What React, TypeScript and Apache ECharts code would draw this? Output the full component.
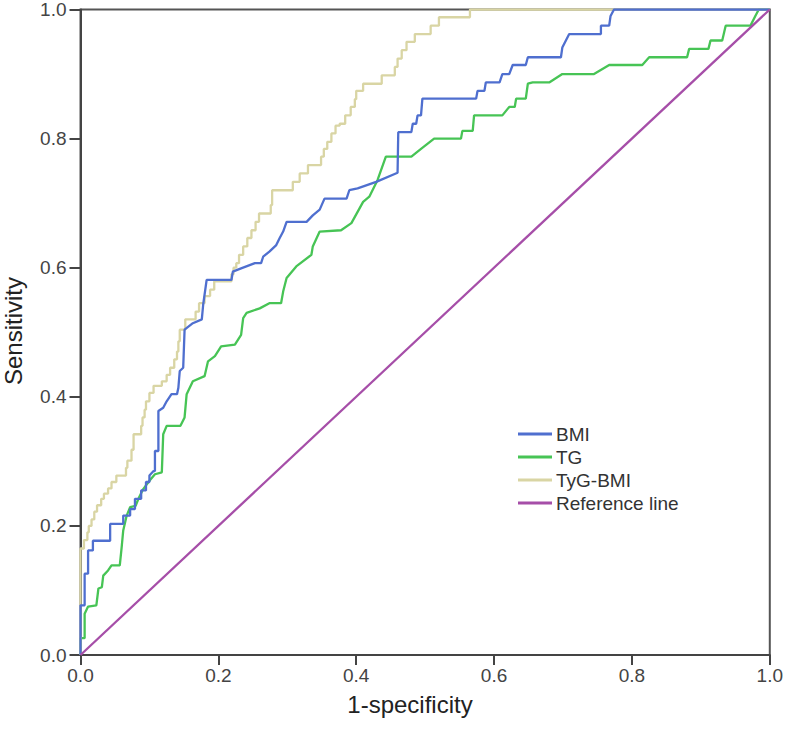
import React, { useEffect, useRef } from "react";
import * as echarts from "echarts";

const xTicks = [0, 0.2, 0.4, 0.6, 0.8, 1.0];
const yTicks = [0, 0.2, 0.4, 0.6, 0.8, 1.0];

const seriesNames = ["BMI", "TG", "TyG-BMI", "Reference line"];
const seriesColors = ["#4f6fcf", "#47c455", "#d9d5a4", "#a64ea8"];

// ROC curve vertices: [1-specificity, sensitivity]
const bmiPoints: [number, number][] = [
  [0, 0], [0, 0.077], [0.006, 0.077], [0.006, 0.126], [0.011, 0.126], [0.011, 0.162],
  [0.018, 0.162], [0.018, 0.177], [0.043, 0.177], [0.043, 0.203], [0.062, 0.203],
  [0.062, 0.216], [0.072, 0.216], [0.072, 0.226], [0.079, 0.226], [0.079, 0.242],
  [0.088, 0.242], [0.088, 0.255], [0.095, 0.255], [0.095, 0.268], [0.1, 0.268],
  [0.1, 0.278], [0.106, 0.285], [0.108, 0.285], [0.108, 0.316], [0.113, 0.316],
  [0.113, 0.378], [0.12, 0.383], [0.125, 0.393], [0.132, 0.404], [0.14, 0.404],
  [0.142, 0.414], [0.144, 0.44], [0.149, 0.445], [0.151, 0.504], [0.163, 0.514],
  [0.176, 0.52], [0.178, 0.543], [0.183, 0.581], [0.219, 0.581], [0.221, 0.594],
  [0.233, 0.599], [0.253, 0.607], [0.262, 0.607], [0.265, 0.617], [0.274, 0.625],
  [0.284, 0.635], [0.289, 0.646], [0.294, 0.656], [0.299, 0.671], [0.328, 0.671],
  [0.337, 0.681], [0.347, 0.69], [0.354, 0.707], [0.386, 0.707], [0.39, 0.72],
  [0.402, 0.723], [0.429, 0.733], [0.46, 0.747], [0.461, 0.81], [0.48, 0.81],
  [0.482, 0.823], [0.487, 0.823], [0.489, 0.836], [0.494, 0.836], [0.496, 0.862],
  [0.574, 0.862], [0.576, 0.874], [0.586, 0.874], [0.588, 0.887], [0.608, 0.887],
  [0.612, 0.9], [0.622, 0.9], [0.627, 0.914], [0.646, 0.914], [0.649, 0.926],
  [0.697, 0.926], [0.699, 0.941], [0.709, 0.962], [0.755, 0.962], [0.755, 0.975],
  [0.767, 0.975], [0.769, 0.99], [0.774, 1], [1, 1],
];

const tgPoints: [number, number][] = [
  [0, 0], [0, 0.026], [0.006, 0.026], [0.006, 0.064], [0.011, 0.075], [0.023, 0.077],
  [0.026, 0.103], [0.031, 0.105], [0.033, 0.123], [0.04, 0.131], [0.045, 0.139],
  [0.057, 0.139], [0.06, 0.17], [0.062, 0.193], [0.067, 0.216], [0.072, 0.229],
  [0.08, 0.231], [0.084, 0.242], [0.091, 0.257], [0.1, 0.27], [0.108, 0.28],
  [0.118, 0.283], [0.12, 0.342], [0.125, 0.355], [0.145, 0.355], [0.151, 0.368],
  [0.154, 0.404], [0.163, 0.424], [0.18, 0.432], [0.185, 0.455], [0.195, 0.463],
  [0.204, 0.478], [0.224, 0.481], [0.233, 0.496], [0.236, 0.522], [0.241, 0.53],
  [0.26, 0.537], [0.274, 0.545], [0.291, 0.545], [0.294, 0.563], [0.299, 0.584],
  [0.313, 0.602], [0.335, 0.62], [0.337, 0.633], [0.347, 0.656], [0.378, 0.658],
  [0.393, 0.669], [0.41, 0.702], [0.419, 0.71], [0.431, 0.736], [0.443, 0.772],
  [0.48, 0.772], [0.494, 0.784], [0.513, 0.8], [0.552, 0.8], [0.554, 0.812],
  [0.569, 0.812], [0.571, 0.836], [0.612, 0.836], [0.622, 0.849], [0.63, 0.849],
  [0.632, 0.862], [0.646, 0.862], [0.649, 0.885], [0.656, 0.887], [0.68, 0.887],
  [0.699, 0.9], [0.745, 0.9], [0.767, 0.914], [0.815, 0.914], [0.825, 0.926],
  [0.88, 0.926], [0.883, 0.939], [0.911, 0.939], [0.914, 0.952], [0.931, 0.952],
  [0.936, 0.975], [0.972, 0.975], [0.979, 0.99], [0.984, 1], [1, 1],
];

// TyG-BMI is a pure staircase: each point is [x of jump, level after jump]
const tygSteps: [number, number][] = [
  [0, 0], [0, 0.165], [0.005, 0.178], [0.01, 0.19], [0.012, 0.2], [0.016, 0.21],
  [0.02, 0.222], [0.024, 0.232], [0.03, 0.242], [0.034, 0.25], [0.04, 0.258],
  [0.045, 0.268], [0.052, 0.278], [0.066, 0.29], [0.068, 0.301], [0.074, 0.318],
  [0.077, 0.342], [0.088, 0.355], [0.09, 0.368], [0.093, 0.38], [0.095, 0.393],
  [0.1, 0.406], [0.106, 0.417], [0.118, 0.424], [0.125, 0.434], [0.13, 0.445],
  [0.136, 0.458], [0.14, 0.47], [0.142, 0.486], [0.144, 0.504], [0.152, 0.52],
  [0.167, 0.532], [0.172, 0.545], [0.18, 0.556], [0.188, 0.566], [0.194, 0.579],
  [0.219, 0.59], [0.222, 0.6], [0.226, 0.607], [0.23, 0.62], [0.236, 0.633],
  [0.242, 0.646], [0.248, 0.658], [0.254, 0.671], [0.259, 0.684], [0.276, 0.697],
  [0.278, 0.72], [0.308, 0.733], [0.318, 0.746], [0.33, 0.759], [0.349, 0.772],
  [0.353, 0.784], [0.358, 0.795], [0.364, 0.808], [0.37, 0.82], [0.376, 0.823],
  [0.384, 0.836], [0.392, 0.849], [0.398, 0.861], [0.4, 0.874], [0.41, 0.885],
  [0.437, 0.898], [0.456, 0.911], [0.46, 0.924], [0.466, 0.937], [0.473, 0.95],
  [0.485, 0.962], [0.508, 0.975], [0.52, 0.988], [0.565, 1], [1, 1],
];

const referencePoints: [number, number][] = [[0, 0], [1, 1]];

const FONT = '"Liberation Sans", Arial, Helvetica, sans-serif';

export default function App() {
  const ref = useRef<HTMLDivElement>(null);

  useEffect(() => {
    if (!ref.current) return;
    const chart = echarts.init(ref.current, undefined, { renderer: "svg" });
    const lineW = 2.3;
    chart.setOption({
      animation: false,
      backgroundColor: "#ffffff",
      grid: {
        left: 80.5,
        right: 15,
        top: 7,
        bottom: 74,
        show: true,
        borderColor: "#555555",
        borderWidth: 2,
        backgroundColor: "transparent",
      },
      legend: {
        orient: "vertical",
        left: 513,
        top: 419,
        icon: "rect",
        itemWidth: 34,
        itemHeight: 3,
        itemGap: 3,
        data: seriesNames,
        textStyle: {
          fontFamily: FONT,
          fontSize: 19,
          color: "#333333",
          lineHeight: 20,
          padding: [0, 0, 0, -1],
        },
      },
      xAxis: {
        type: "value",
        min: 0,
        max: 1,
        interval: 0.2,
        axisLine: { show: true, lineStyle: { color: "#444444", width: 2 } },
        axisTick: { show: true, length: 10, lineStyle: { color: "#444444", width: 2 } },
        axisLabel: {
          margin: 11,
          fontFamily: FONT,
          fontSize: 19,
          color: "#444444",
          formatter: (v: number) => v.toFixed(1),
          customValues: xTicks,
        },
        splitLine: { show: false },
      },
      yAxis: {
        type: "value",
        min: 0,
        max: 1,
        interval: 0.2,
        axisLine: { show: true, lineStyle: { color: "#444444", width: 2 } },
        axisTick: { show: true, length: 11, lineStyle: { color: "#444444", width: 2 } },
        axisLabel: {
          margin: 14,
          fontFamily: FONT,
          fontSize: 19,
          color: "#444444",
          formatter: (v: number) => v.toFixed(1),
          customValues: yTicks,
        },
        splitLine: { show: false },
      },
      graphic: [
        {
          type: "text",
          x: 410,
          y: 704,
          style: {
            text: "1-specificity",
            fontFamily: FONT,
            fontSize: 24,
            fill: "#222222",
            align: "center",
            verticalAlign: "middle",
            textAlign: "center",
            textVerticalAlign: "middle",
          },
        },
        {
          type: "text",
          x: 13,
          y: 331,
          rotation: Math.PI / 2,
          style: {
            text: "Sensitivity",
            fontFamily: FONT,
            fontSize: 24,
            fill: "#222222",
            align: "center",
            verticalAlign: "middle",
            textAlign: "center",
            textVerticalAlign: "middle",
          },
        },
      ],
      series: [
        {
          name: seriesNames[0],
          type: "line",
          data: bmiPoints,
          color: seriesColors[0],
          showSymbol: false,
          symbol: "none",
          lineStyle: { width: lineW, color: seriesColors[0] },
          z: 3,
        },
        {
          name: seriesNames[1],
          type: "line",
          data: tgPoints,
          color: seriesColors[1],
          showSymbol: false,
          symbol: "none",
          lineStyle: { width: lineW, color: seriesColors[1] },
          z: 2,
        },
        {
          name: seriesNames[2],
          type: "line",
          data: tygSteps,
          step: "end",
          color: seriesColors[2],
          showSymbol: false,
          symbol: "none",
          lineStyle: { width: lineW, color: seriesColors[2] },
          z: 2,
        },
        {
          name: seriesNames[3],
          type: "line",
          data: referencePoints,
          color: seriesColors[3],
          showSymbol: false,
          symbol: "none",
          lineStyle: { width: lineW, color: seriesColors[3] },
          z: 4,
        },
      ],
    });
    return () => chart.dispose();
  }, []);

  return (
    <div
      ref={ref}
      style={{ position: "fixed", left: 0, top: 0, width: 786, height: 729, background: "#fff" }}
    />
  );
}
